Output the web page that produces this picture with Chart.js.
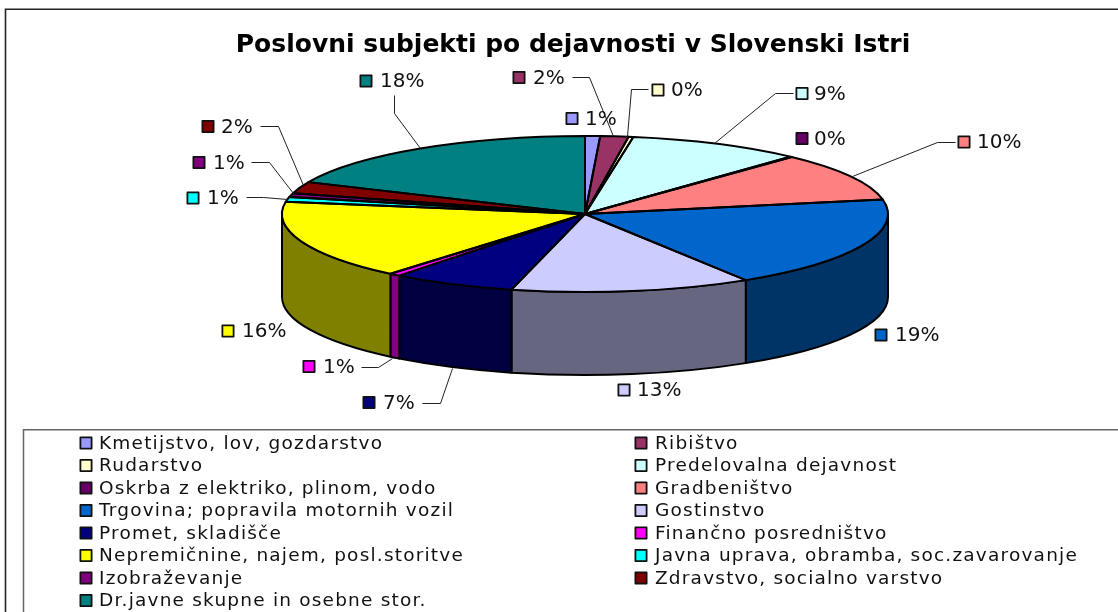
<!DOCTYPE html>
<html><head><meta charset="utf-8">
<script src="https://cdn.jsdelivr.net/npm/chart.js@4"></script>
<style>html,body{margin:0;padding:0;background:#fff;overflow:hidden}canvas{display:block}</style>
</head><body><canvas id="c" width="1118" height="612"></canvas>
<script>
const chartTitle = "Poslovni subjekti po dejavnosti v Slovenski Istri";
const categories = ["Kmetijstvo, lov, gozdarstvo","Ribištvo","Rudarstvo","Predelovalna dejavnost","Oskrba z elektriko, plinom, vodo","Gradbeništvo","Trgovina; popravila motornih vozil","Gostinstvo","Promet, skladišče","Finančno posredništvo","Nepremičnine, najem, posl.storitve","Javna uprava, obramba, soc.zavarovanje","Izobraževanje","Zdravstvo, socialno varstvo","Dr.javne skupne in osebne stor."];
const shares = [0.8,1.5,0.25,9.3,0.1,10.05,19.1,12.8,6.6,0.6,16.4,1.0,0.8,2.4,18.3];
const topColors = ["#9999FF","#993366","#FFFFCC","#CCFFFF","#660066","#FF8080","#0066CC","#CCCCFF","#000080","#FF00FF","#FFFF00","#00FFFF","#800080","#800000","#008080"];
const sideColors = ["#4D4D80","#4D1A33","#808066","#668080","#330033","#804040","#003366","#666680","#000040","#800080","#808000","#008080","#400040","#400000","#004040"];
// label placement: marker left, marker centre y, text left, leader polyline (from label to elbow; the pie end is last)
const labelBoxes = [
 {mx:566,my:118.5,tx:585},
 {mx:513,my:77.5,tx:533,lead:[[572,77],[589,77],[613,136]]},
 {mx:652,my:90,tx:671,lead:[[648,89],[631,89],[627,136]]},
 {mx:796,my:93.5,tx:814,lead:[[793,93],[775,93],[714,143]]},
 {mx:796,my:138.5,tx:814},
 {mx:958,my:142,tx:977,lead:[[955,142],[937,142],[852,176]]},
 {mx:875,my:335,tx:895},
 {mx:618,my:390,tx:637},
 {mx:363,my:402.5,tx:383,lead:[[422,403],[440,403],[452,368]]},
 {mx:303,my:366.5,tx:323,lead:[[361,367],[378,367],[392,358]]},
 {mx:222,my:331,tx:242},
 {mx:187,my:198,tx:207,lead:[[246,197],[263,197],[287,199]]},
 {mx:193,my:162.5,tx:213,lead:[[251,162],[269,162],[293,193]]},
 {mx:202,my:126.5,tx:221,lead:[[260,126],[278,126],[303,185]]},
 {mx:360,my:81,tx:380,lead:[[394,95],[394,113],[420,148]]}
];
const FONT = '"DejaVu Sans"';
const PIE = {cx:585, cy:214, ry:78, depth:83};

function marker(ctx,x,y,c,s){ ctx.fillStyle=c; ctx.strokeStyle='#111'; ctx.lineWidth=1.8;
  ctx.fillRect(x,y,s,s); ctx.strokeRect(x+.4,y+.4,s-.8,s-.8); }

const pie3d = {
  id:'pie3d',
  beforeDatasetsDraw(chart){
    const ctx = chart.ctx, arcs = chart.getDatasetMeta(0).data, c = arcs[0];
    ctx.save();
    ctx.fillStyle='#fff'; ctx.fillRect(0,0,1118,612);
    ctx.strokeStyle='#222'; ctx.lineWidth=1.6;
    ctx.beginPath(); ctx.moveTo(5.5,612); ctx.lineTo(5.5,9.3); ctx.lineTo(1118,9.3); ctx.stroke();
    ctx.strokeStyle='#666'; ctx.lineWidth=1.5;
    ctx.beginPath(); ctx.moveTo(23.5,612); ctx.lineTo(23.5,429.8); ctx.lineTo(1118,429.8); ctx.stroke();
    // side wall of the front half, from the library's arc angles
    ctx.lineWidth=2; ctx.strokeStyle='#000'; ctx.lineJoin='round';
    const sk = PIE.ry/c.outerRadius;
    arcs.forEach((el,i)=>{
      const s = Math.max(el.startAngle,0), e = Math.min(el.endAngle,Math.PI);
      if(e<=s) return;
      const R=el.outerRadius;
      ctx.beginPath();
      ctx.ellipse(PIE.cx,PIE.cy,R,R*sk,0,s,e,false);
      ctx.ellipse(PIE.cx,PIE.cy+PIE.depth,R,R*sk,0,e,s,true);
      ctx.closePath();
      ctx.fillStyle=sideColors[i]; ctx.fill(); ctx.stroke();
    });
    ctx.restore();
    // squash the library's pie into the tilted top face
    ctx.save();
    ctx.translate(PIE.cx,PIE.cy); ctx.scale(1,sk); ctx.translate(-c.x,-c.y);
  },
  afterDatasetsDraw(chart){
    const ctx = chart.ctx, arcs = chart.getDatasetMeta(0).data, c=arcs[0];
    ctx.restore();
    const sk = PIE.ry/c.outerRadius;
    ctx.save();
    ctx.strokeStyle='#000'; ctx.lineWidth=2; ctx.lineJoin='round';
    arcs.forEach(el=>{
      ctx.beginPath(); ctx.moveTo(PIE.cx,PIE.cy);
      ctx.ellipse(PIE.cx,PIE.cy,el.outerRadius,el.outerRadius*sk,0,el.startAngle,el.endAngle,false);
      ctx.closePath(); ctx.stroke();
    });
    ctx.strokeStyle='#222'; ctx.lineWidth=1;
    labelBoxes.forEach(b=>{ if(!b.lead) return;
      ctx.beginPath(); b.lead.forEach((p,j)=> j?ctx.lineTo(p[0]+.5,p[1]+.5):ctx.moveTo(p[0]+.5,p[1]+.5)); ctx.stroke(); });
    const total = shares.reduce((a,b)=>a+b,0);
    ctx.textBaseline='middle'; ctx.textAlign='left';
    labelBoxes.forEach((b,i)=>{
      marker(ctx,b.mx,b.my-6,topColors[i],12);
      ctx.fillStyle='#111'; ctx.font='20px '+FONT;
      ctx.fillText(Math.round(shares[i]/total*100)+'%',b.tx,b.my+1);
    });
    ctx.fillStyle='#000'; ctx.font='bold 25px '+FONT; ctx.textAlign='center';
    ctx.fillText(chartTitle,573,45);
    ctx.textAlign='left'; ctx.font='18.5px '+FONT; ctx.letterSpacing='1.2px';
    categories.forEach((t,i)=>{
      const col=i%2, row=(i-col)/2, y=443+row*22.5;
      const x= col?635:80;
      marker(ctx,x,y-6,topColors[i],12);
      ctx.fillStyle='#111'; ctx.fillText(t,col?655:99,y+1);
    });
    ctx.letterSpacing='0px';
    ctx.restore();
  }
};

new Chart(document.getElementById('c'),{
  type:'pie',
  data:{labels:categories,datasets:[{data:shares,backgroundColor:topColors,borderWidth:0}]},
  options:{
    responsive:false,animation:false,radius:303,
    layout:{padding:{left:282,right:230,top:3,bottom:3}},
    plugins:{legend:{display:false},tooltip:{enabled:false},title:{display:false}}
  },
  plugins:[pie3d]
});
</script></body></html>
